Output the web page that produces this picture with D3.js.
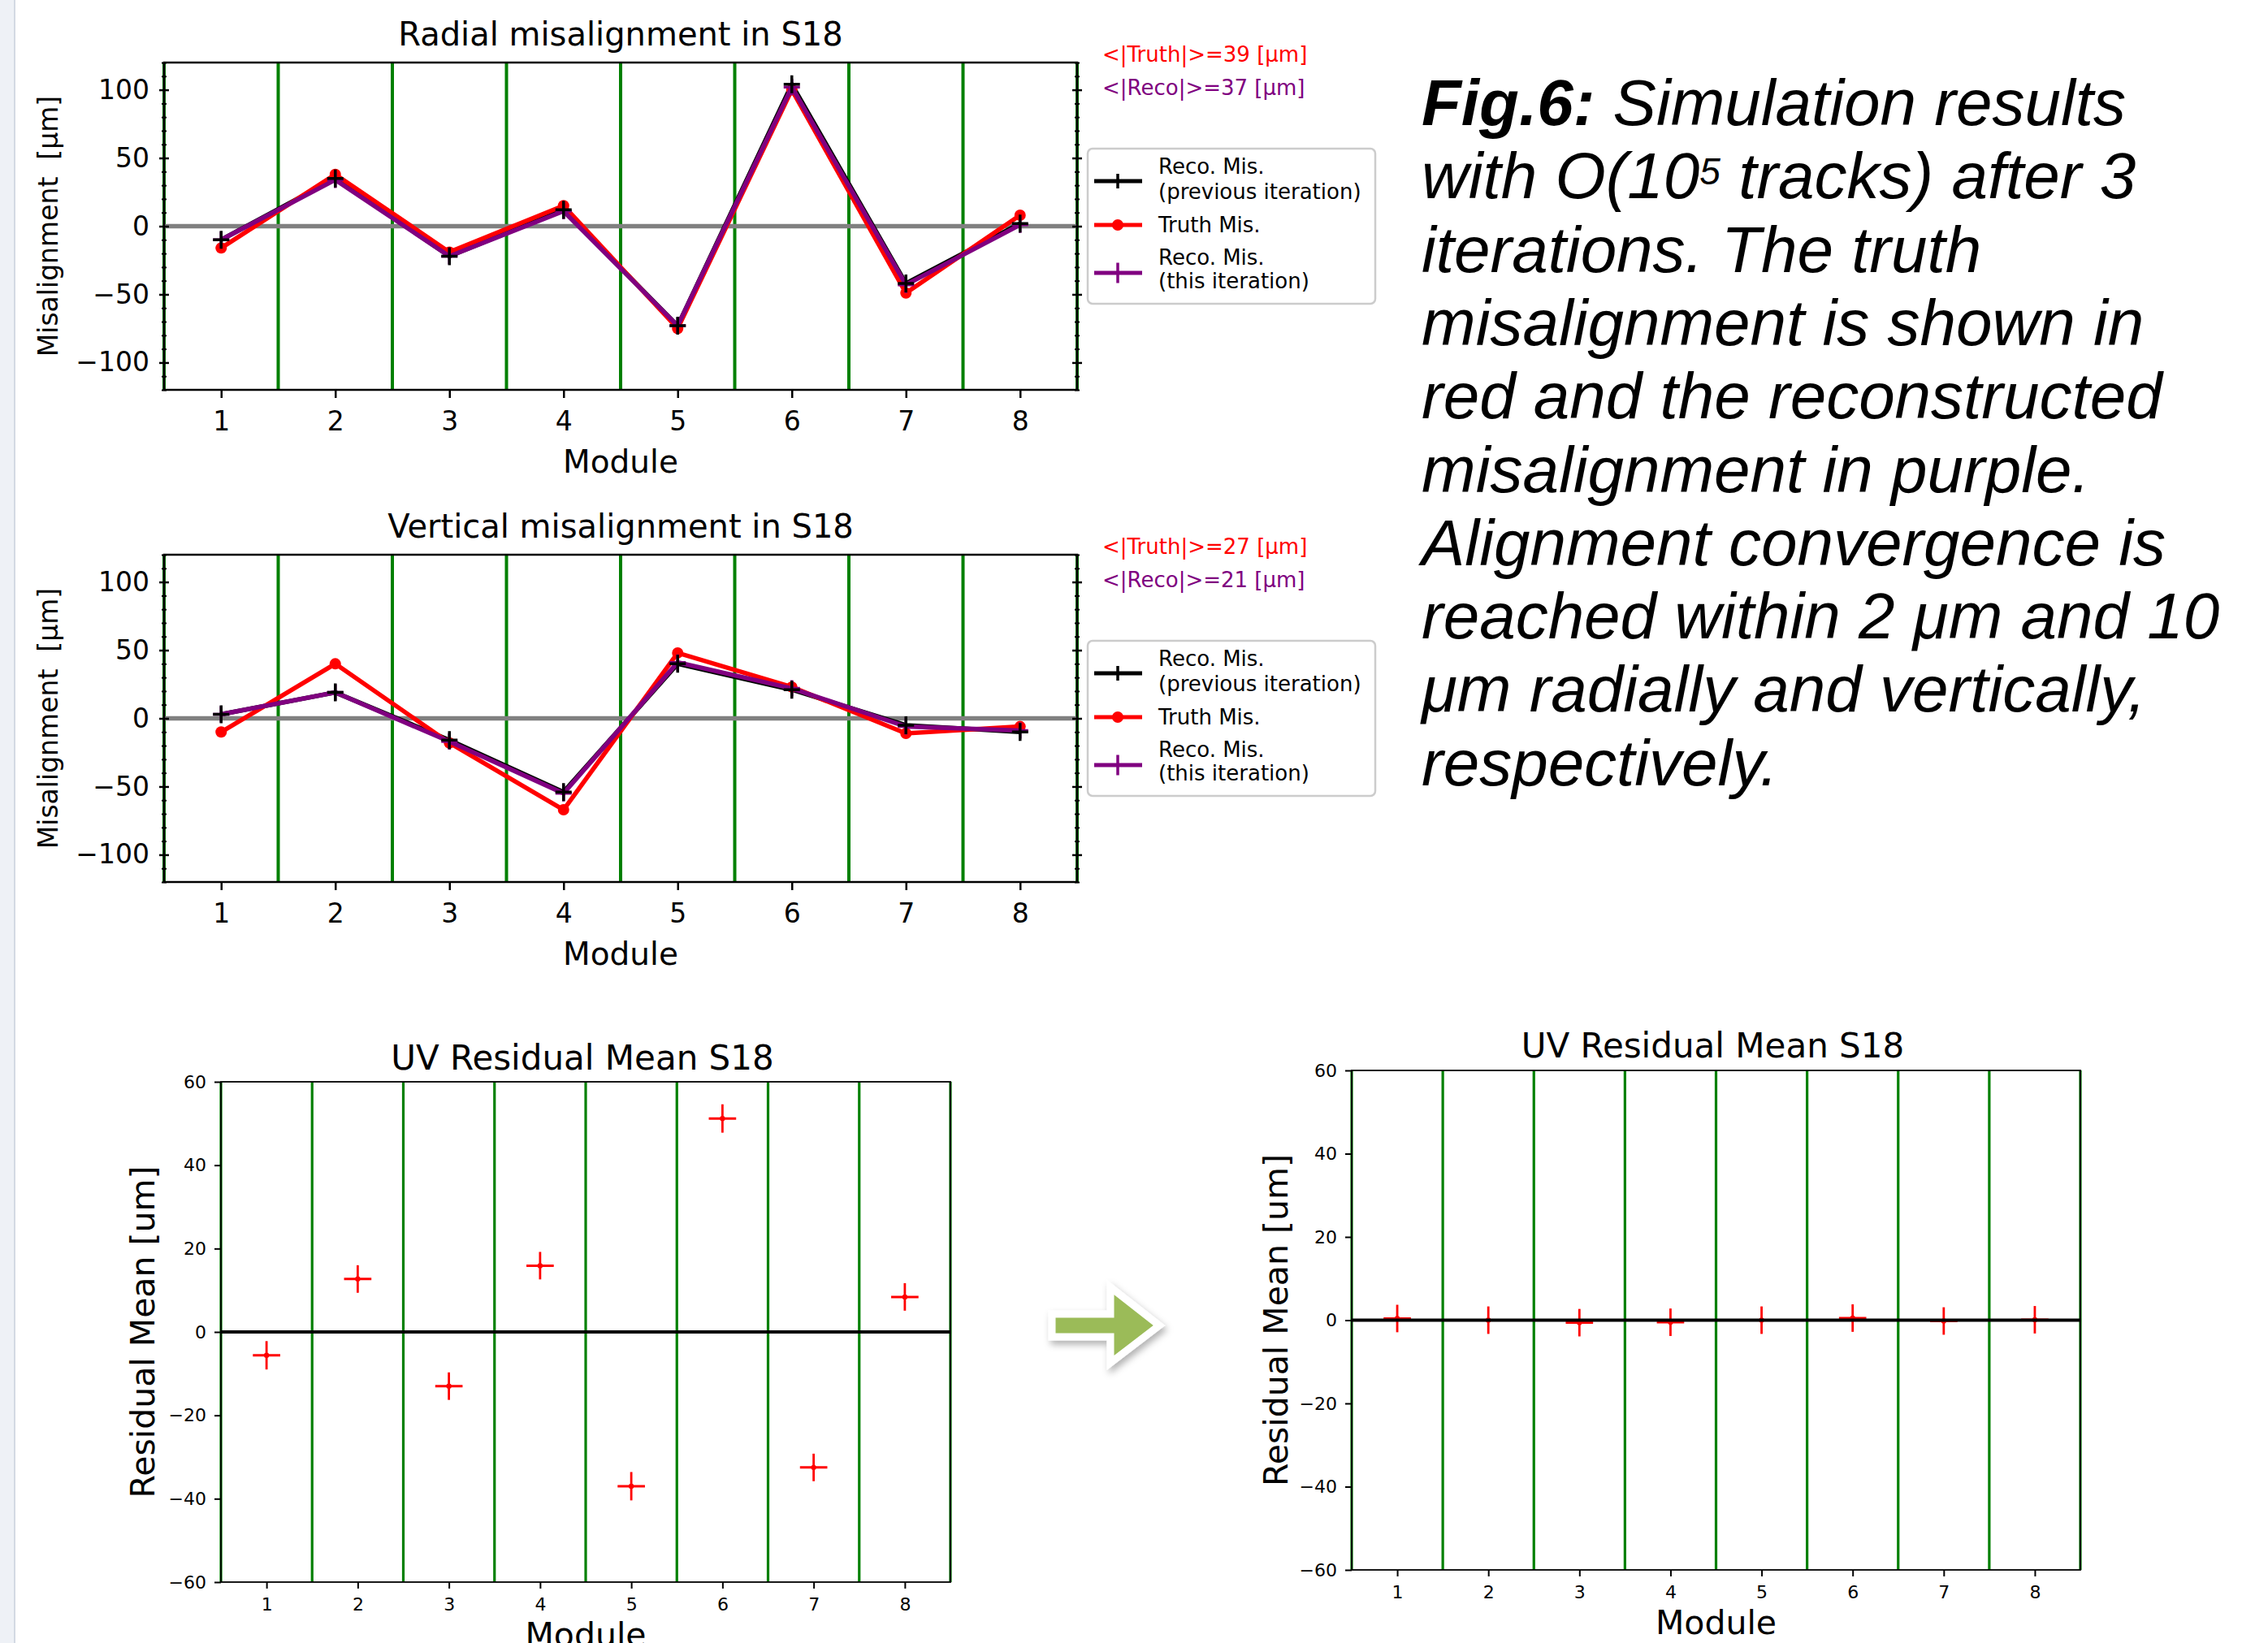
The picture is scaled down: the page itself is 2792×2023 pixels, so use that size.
<!DOCTYPE html>
<html>
<head>
<meta charset="utf-8">
<script src="https://cdn.jsdelivr.net/npm/d3@7"></script>
<style>
  body { margin: 0; background: #fff; }
  svg text { font-family: "DejaVu Sans"; }
  .caption text { font-family: "Liberation Sans", Arial; font-style: italic; }
</style>
</head>
<body>
<svg id="fig" width="2792" height="2023"></svg>
<script>
// values
const modules = [1, 2, 3, 4, 5, 6, 7, 8];
const boundaries = [0.5, 1.5, 2.5, 3.5, 4.5, 5.5, 6.5, 7.5, 8.5];

const radialTruth    = [-16, 38, -19, 15, -75, 100, -49, 8];
const radialRecoPrev = [-10, 35, -22, 12, -73, 104, -42, 2];
const radialRecoThis = [-10, 34, -22, 11, -73, 102, -43, 1];

const verticalTruth    = [-10, 40, -18, -67, 48, 23, -11, -6];
const verticalRecoPrev = [3, 19, -16, -54, 40, 21, -5, -10];
const verticalRecoThis = [3, 19, -17, -55, 41, 22, -6, -9];

const residualBefore    = [-5.6, 12.7, -13.0, 15.9, -37.0, 51.2, -32.5, 8.4];
const residualAfter     = [0.4, 0.0, -0.6, -0.5, 0.0, 0.5, -0.2, 0.1];
const residualErrBefore = [3.4, 3.3, 3.3, 3.3, 3.4, 3.4, 3.3, 3.3];
const residualErrAfter  = [3.3, 3.3, 3.3, 3.3, 3.3, 3.3, 3.3, 3.3];
const moduleHalfWidth   = [0.15, 0.15, 0.15, 0.15, 0.15, 0.15, 0.15, 0.15];

const misTicks = [-100, -50, 0, 50, 100];
const misMinorTicks = d3.range(-120, 121, 10).filter(v => v % 50 !== 0);
const resTicks = [-60, -40, -20, 0, 20, 40, 60];

const legendLabels = [["Reco. Mis.", "(previous iteration)"], ["Truth Mis."], ["Reco. Mis.", "(this iteration)"]];

const captionLines = [
  "Fig.6: Simulation results",
  "with O(10|5| tracks) after 3",
  "iterations. The truth",
  "misalignment is shown in",
  "red and the reconstructed",
  "misalignment in purple.",
  "Alignment convergence is",
  "reached within 2 μm and 10",
  "μm radially and vertically,",
  "respectively."
];

const RED = "#ff0000", PURPLE = "#800080", GREEN = "#008000", GREY = "#808080";

const svg = d3.select("#fig");

// browser frame strip on the left
svg.append("rect").attr("x", 0).attr("y", 0).attr("width", 17).attr("height", 2023).attr("fill", "#eef1f6");
svg.append("line").attr("x1", 18).attr("x2", 18).attr("y1", 0).attr("y2", 2023)
  .attr("stroke", "#d3d9e3").attr("stroke-width", 2);

function plusPath(cx, cy, w, h) {
  return "M" + (cx - w) + "," + cy + "H" + (cx + w) + "M" + cx + "," + (cy - h) + "V" + (cy + h);
}

// ---------- misalignment panels ----------
function misPanel(off, title, truth, prev, reco, truthMean, recoMean) {
  const L = 202, R = 1326, T = 77 + off, B = 480 + off;
  const x = d3.scaleLinear().domain([0.5, 8.5]).range([L, R]);
  const y = d3.scaleLinear().domain([-120, 120]).range([B, T]);
  const g = svg.append("g");

  g.selectAll(".sep").data(boundaries).enter().append("line")
    .attr("x1", d => x(d)).attr("x2", d => x(d)).attr("y1", T).attr("y2", B)
    .attr("stroke", GREEN).attr("stroke-width", 4);

  g.append("line").attr("x1", L).attr("x2", R).attr("y1", y(0)).attr("y2", y(0))
    .attr("stroke", GREY).attr("stroke-width", 5.5);

  const line = d3.line().x((d, i) => x(modules[i])).y(d => y(d));

  g.append("path").attr("d", line(prev)).attr("fill", "none").attr("stroke", "#000").attr("stroke-width", 5.5);
  g.append("path").attr("d", line(truth)).attr("fill", "none").attr("stroke", RED).attr("stroke-width", 5.5);
  g.selectAll(".tdot").data(truth).enter().append("circle")
    .attr("cx", (d, i) => x(modules[i])).attr("cy", d => y(d)).attr("r", 7).attr("fill", RED);
  g.append("path").attr("d", line(reco)).attr("fill", "none").attr("stroke", PURPLE).attr("stroke-width", 5.5);
  g.selectAll(".rplus").data(reco).enter().append("path")
    .attr("d", (d, i) => plusPath(x(modules[i]), y(d), 10, 10))
    .attr("stroke", PURPLE).attr("stroke-width", 3.5);
  g.selectAll(".pplus").data(prev).enter().append("path")
    .attr("d", (d, i) => plusPath(x(modules[i]), y(d), 10, 11))
    .attr("stroke", "#000").attr("stroke-width", 3.5);

  // spines
  g.append("rect").attr("x", L).attr("y", T).attr("width", R - L).attr("height", B - T)
    .attr("fill", "none").attr("stroke", "#000").attr("stroke-width", 2.5);

  // y axis, ticks crossing the spine
  const yAx = g.append("g").attr("transform", "translate(" + L + ",0)")
    .call(d3.axisLeft(y).tickValues(misTicks).tickSize(6).tickSizeOuter(0).tickPadding(12));
  yAx.select(".domain").remove();
  yAx.selectAll(".tick line").attr("x1", 6).attr("stroke-width", 2.5);
  yAx.selectAll("text").attr("font-size", 33).attr("font-family", "DejaVu Sans").attr("fill", "#000");

  const yMin = g.append("g").attr("transform", "translate(" + L + ",0)")
    .call(d3.axisLeft(y).tickValues(misMinorTicks).tickSize(3).tickSizeOuter(0).tickFormat(""));
  yMin.select(".domain").remove();
  yMin.selectAll(".tick line").attr("x1", 3).attr("stroke-width", 2);

  const yR = g.append("g").attr("transform", "translate(" + R + ",0)")
    .call(d3.axisRight(y).tickValues(misTicks).tickSize(6).tickSizeOuter(0).tickFormat(""));
  yR.select(".domain").remove();
  yR.selectAll(".tick line").attr("x1", -6).attr("stroke-width", 2.5);
  const yRMin = g.append("g").attr("transform", "translate(" + R + ",0)")
    .call(d3.axisRight(y).tickValues(misMinorTicks).tickSize(3).tickSizeOuter(0).tickFormat(""));
  yRMin.select(".domain").remove();
  yRMin.selectAll(".tick line").attr("x1", -3).attr("stroke-width", 2);

  const xAx = g.append("g").attr("transform", "translate(0," + B + ")")
    .call(d3.axisBottom(x).tickValues(modules).tickSize(10).tickSizeOuter(0).tickPadding(17));
  xAx.select(".domain").remove();
  xAx.selectAll(".tick line").attr("stroke-width", 2.5);
  xAx.selectAll("text").attr("font-size", 33).attr("font-family", "DejaVu Sans").attr("fill", "#000");

  g.append("text").attr("x", (L + R) / 2).attr("y", 56 + off).attr("text-anchor", "middle")
    .attr("font-size", 40).text(title);
  g.append("text").attr("x", (L + R) / 2).attr("y", 582 + off).attr("text-anchor", "middle")
    .attr("font-size", 39).text("Module");
  g.append("text").attr("transform", "translate(71," + ((T + B) / 2) + ") rotate(-90)")
    .attr("text-anchor", "middle").attr("font-size", 33).style("white-space", "pre")
    .text("Misalignment  [μm]");

  g.append("text").attr("x", 1357).attr("y", 76 + off).attr("font-size", 26).attr("fill", RED)
    .text("<|Truth|>=" + truthMean + " [μm]");
  g.append("text").attr("x", 1357).attr("y", 117 + off).attr("font-size", 26).attr("fill", PURPLE)
    .text("<|Reco|>=" + recoMean + " [μm]");

  // legend
  const lg = g.append("g").attr("transform", "translate(0," + off + ")");
  lg.append("rect").attr("x", 1339).attr("y", 183).attr("width", 354).attr("height", 191)
    .attr("rx", 6).attr("fill", "#fff").attr("stroke", "#cccccc").attr("stroke-width", 2.5);
  const symY = [223, 277, 336];
  const symCol = ["#000", RED, PURPLE];
  symY.forEach((sy, k) => {
    lg.append("line").attr("x1", 1347).attr("x2", 1406).attr("y1", sy).attr("y2", sy)
      .attr("stroke", symCol[k]).attr("stroke-width", 5);
    if (k === 1) {
      lg.append("circle").attr("cx", 1376).attr("cy", sy).attr("r", 7).attr("fill", RED);
    } else {
      lg.append("path").attr("d", plusPath(1376, sy, 0, k === 0 ? 9 : 12.5))
        .attr("stroke", symCol[k]).attr("stroke-width", 3.5);
    }
  });
  const textY = [[214, 245], [286], [326, 355]];
  legendLabels.forEach((rows, k) => rows.forEach((t, j) => {
    lg.append("text").attr("x", 1426).attr("y", textY[k][j]).attr("font-size", 26).text(t);
  }));
}

misPanel(0, "Radial misalignment in S18", radialTruth, radialRecoPrev, radialRecoThis, 39, 37);
misPanel(606, "Vertical misalignment in S18", verticalTruth, verticalRecoPrev, verticalRecoThis, 27, 21);

// ---------- residual panels ----------
function resPanel(L, R, T, B, vals, errs, ylabX, titleY, modY) {
  const x = d3.scaleLinear().domain([0.5, 8.5]).range([L, R]);
  const y = d3.scaleLinear().domain([-60, 60]).range([B, T]);
  const g = svg.append("g");

  g.selectAll(".sep").data(boundaries).enter().append("line")
    .attr("x1", d => x(d)).attr("x2", d => x(d)).attr("y1", T).attr("y2", B)
    .attr("stroke", GREEN).attr("stroke-width", 3.2);

  const pts = g.selectAll(".pt").data(vals).enter().append("g");
  pts.append("line")
    .attr("x1", (d, i) => x(modules[i] - moduleHalfWidth[i])).attr("x2", (d, i) => x(modules[i] + moduleHalfWidth[i]))
    .attr("y1", d => y(d)).attr("y2", d => y(d))
    .attr("stroke", RED).attr("stroke-width", 3);
  pts.append("line")
    .attr("x1", (d, i) => x(modules[i])).attr("x2", (d, i) => x(modules[i]))
    .attr("y1", (d, i) => y(d + errs[i])).attr("y2", (d, i) => y(d - errs[i]))
    .attr("stroke", RED).attr("stroke-width", 2.8);
  pts.append("circle").attr("cx", (d, i) => x(modules[i])).attr("cy", d => y(d)).attr("r", 3.2).attr("fill", RED);

  g.append("line").attr("x1", L).attr("x2", R).attr("y1", y(0)).attr("y2", y(0))
    .attr("stroke", "#000").attr("stroke-width", 3.8);

  g.append("rect").attr("x", L).attr("y", T).attr("width", R - L).attr("height", B - T)
    .attr("fill", "none").attr("stroke", "#000").attr("stroke-width", 1.8);

  const yAx = g.append("g").attr("transform", "translate(" + L + ",0)")
    .call(d3.axisLeft(y).tickValues(resTicks).tickSize(8).tickSizeOuter(0).tickPadding(10));
  yAx.select(".domain").remove();
  yAx.selectAll(".tick line").attr("stroke-width", 2);
  yAx.selectAll("text").attr("font-size", 22).attr("font-family", "DejaVu Sans").attr("fill", "#000");

  const xAx = g.append("g").attr("transform", "translate(0," + B + ")")
    .call(d3.axisBottom(x).tickValues(modules).tickSize(8).tickSizeOuter(0).tickPadding(11));
  xAx.select(".domain").remove();
  xAx.selectAll(".tick line").attr("stroke-width", 2);
  xAx.selectAll("text").attr("font-size", 22).attr("font-family", "DejaVu Sans").attr("fill", "#000");

  g.append("text").attr("x", (L + R) / 2 - 4).attr("y", titleY).attr("text-anchor", "middle")
    .attr("font-size", 42).text("UV Residual Mean S18");
  g.append("text").attr("x", (L + R) / 2).attr("y", modY).attr("text-anchor", "middle")
    .attr("font-size", 41).text("Module");
  g.append("text").attr("transform", "translate(" + ylabX + "," + ((T + B) / 2) + ") rotate(-90)")
    .attr("text-anchor", "middle").attr("font-size", 41).text("Residual Mean [um]");
}

resPanel(272, 1170, 1332, 1948, residualBefore, residualErrBefore, 190, 1317, 2027);
resPanel(1664, 2561, 1318, 1933, residualAfter, residualErrAfter, 1585, 1302, 2012);

// ---------- green arrow ----------
const defs = svg.append("defs");
const f = defs.append("filter").attr("id", "shadow").attr("x", "-30%").attr("y", "-30%")
  .attr("width", "160%").attr("height", "160%");
f.append("feDropShadow").attr("dx", 3).attr("dy", 5).attr("stdDeviation", 4)
  .attr("flood-color", "#000").attr("flood-opacity", 0.3);
const arrowPts = [[1295, 1618], [1367, 1618], [1367, 1585], [1427, 1632], [1367, 1678], [1367, 1646], [1295, 1646]];
svg.append("path").attr("d", d3.line()(arrowPts) + "Z")
  .attr("fill", "#9bbb59").attr("stroke", "#fff").attr("stroke-width", 9)
  .attr("stroke-linejoin", "miter").attr("filter", "url(#shadow)");

// ---------- caption ----------
const cap = svg.append("g").attr("class", "caption");
captionLines.forEach((ln, i) => {
  const t = cap.append("text").attr("x", 1750).attr("y", 154 + i * 90.3).attr("font-size", 80).attr("fill", "#000");
  if (i === 0) {
    t.append("tspan").attr("font-weight", "bold").text("Fig.6:");
    t.append("tspan").text(ln.slice(6));
  } else if (ln.indexOf("|") >= 0) {
    const parts = ln.split("|");
    t.append("tspan").text(parts[0]);
    t.append("tspan").attr("font-size", 46).attr("dy", -17).text(parts[1]);
    t.append("tspan").attr("dy", 17).text(parts[2]);
  } else {
    t.text(ln);
  }
});
</script>
</body>
</html>
